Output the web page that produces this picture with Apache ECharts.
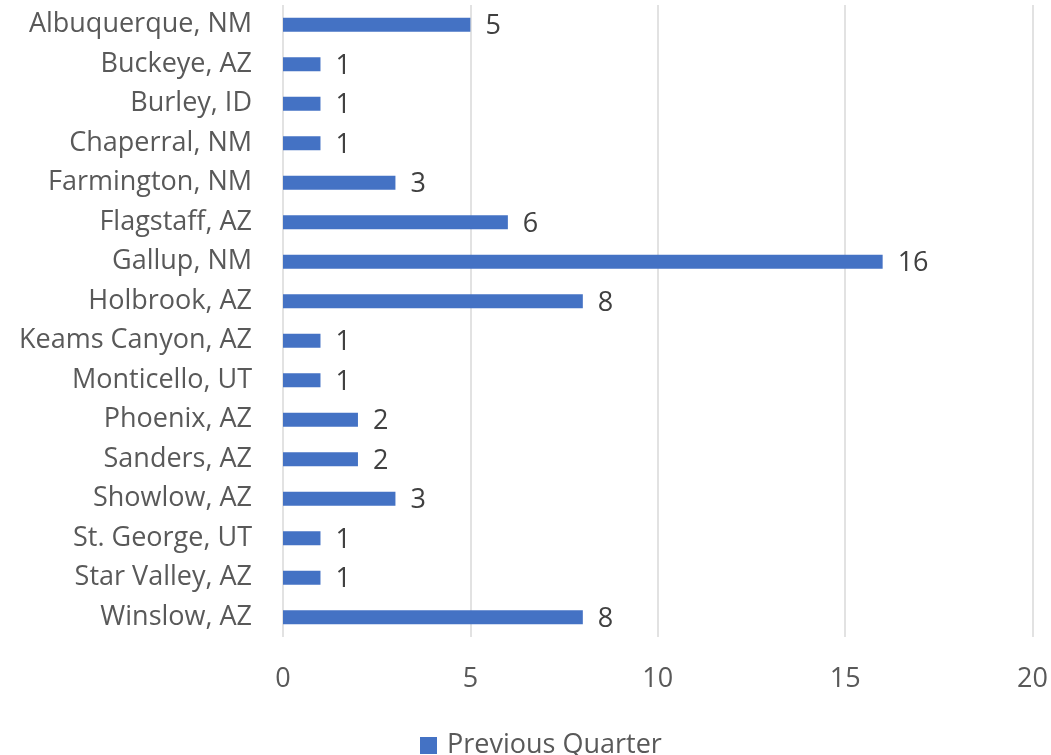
<!DOCTYPE html>
<html>
<head>
<meta charset="utf-8">
<script src="https://cdn.jsdelivr.net/npm/echarts@6/dist/echarts.min.js"></script>
<style>
  html, body { margin: 0; padding: 0; background: #fff; }
  #chart { width: 1051px; height: 755px; }
</style>
</head>
<body>
<div id="chart"></div>
<script>
// categories listed top to bottom as in the picture
const cities = [
  'Albuquerque, NM', 'Buckeye, AZ', 'Burley, ID', 'Chaperral, NM',
  'Farmington, NM', 'Flagstaff, AZ', 'Gallup, NM', 'Holbrook, AZ',
  'Keams Canyon, AZ', 'Monticello, UT', 'Phoenix, AZ', 'Sanders, AZ',
  'Showlow, AZ', 'St. George, UT', 'Star Valley, AZ', 'Winslow, AZ'
]
const previousQuarter = [5, 1, 1, 1, 3, 6, 16, 8, 1, 1, 2, 2, 3, 1, 1, 8]
const xTicks = [0, 5, 10, 15, 20]

const fontFamily = '"Open Sans", "Noto Sans", sans-serif'
const fontSize = 27

const chart = echarts.init(document.getElementById('chart'))
chart.setOption({
  animation: false,
  textStyle: { fontFamily: fontFamily },
  grid: {
    left: 283,
    right: 18,
    top: 5,
    bottom: 118
  },
  legend: {
    data: ['Previous Quarter'],
    top: 727,
    left: 415,
    icon: 'rect',
    itemWidth: 17,
    itemHeight: 17,
    itemGap: 10,
    textStyle: {
      fontSize: fontSize,
      color: '#595959',
      fontFamily: fontFamily,
      padding: [0, 0, 0, 5]
    }
  },
  xAxis: {
    type: 'value',
    min: xTicks[0],
    max: xTicks[xTicks.length - 1],
    interval: 5,
    axisLine: { show: false },
    axisTick: { show: false },
    splitLine: { lineStyle: { color: '#d9d9d9', width: 1.5 } },
    axisLabel: { fontSize: fontSize, color: '#595959', margin: 29, fontFamily: fontFamily }
  },
  yAxis: {
    type: 'category',
    data: cities,
    inverse: true,
    axisLine: { show: false },
    axisTick: { show: false },
    axisLabel: { fontSize: fontSize, color: '#595959', margin: 31, fontFamily: fontFamily }
  },
  series: [{
    name: 'Previous Quarter',
    type: 'bar',
    data: previousQuarter,
    barWidth: 14,
    itemStyle: { color: '#4472C4' },
    label: {
      show: true,
      position: 'right',
      distance: 15,
      offset: [0, 2],
      fontSize: fontSize,
      color: '#404040',
      fontFamily: fontFamily
    }
  }]
})
</script>
</body>
</html>
